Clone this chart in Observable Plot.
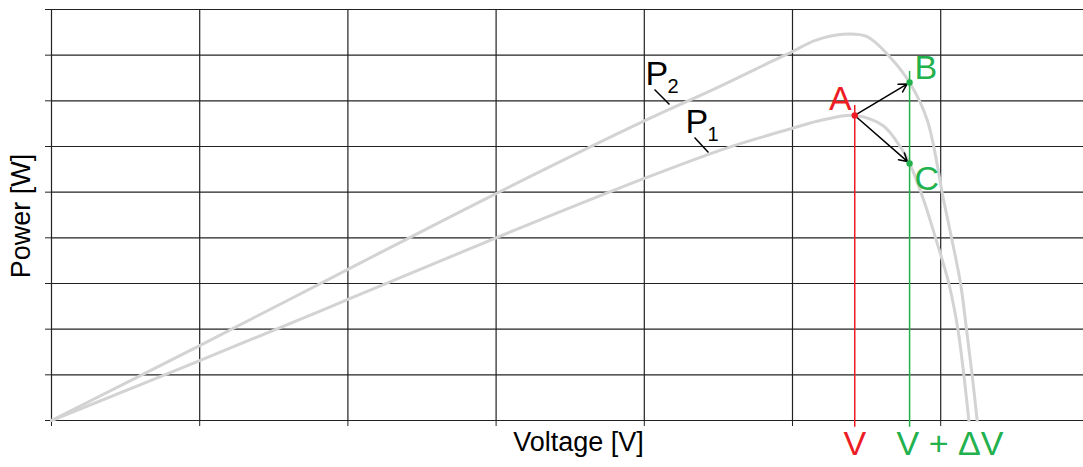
<!DOCTYPE html>
<html>
<head>
<meta charset="utf-8">
<script src="https://cdn.jsdelivr.net/npm/d3@7"></script>
<script src="https://cdn.jsdelivr.net/npm/@observablehq/plot@0.6"></script>
<style>
  html, body { margin: 0; padding: 0; background: #fff; }
  #chart svg { display: block; }
</style>
</head>
<body>
<div id="chart"></div>
<script>
// ---- data (grid units) ----
const xTicks = [0, 1, 2, 3, 4, 5, 6];
const yTicks = [0, 1, 2, 3, 4, 5, 6, 7, 8, 9];

const p1Voltage = [0, 1, 2, 3, 4, 4.56, 5, 5.2, 5.42, 5.61, 5.73, 5.79, 5.886, 5.965, 6.055, 6.116, 6.156, 6.19];
const p1Power   = [0, 1.31, 2.65, 4.0, 5.3, 5.97, 6.4, 6.58, 6.68, 6.46, 5.98, 5.63, 4.82, 4.0, 3.0, 2.0, 1.0, 0];

const p2Voltage = [0, 1, 2, 3, 4, 4.5, 4.87, 5, 5.15, 5.34, 5.5, 5.66, 5.79, 5.91, 6.02, 6.073, 6.134, 6.174, 6.212, 6.246];
const p2Power   = [0, 1.64, 3.31, 4.97, 6.56, 7.3, 7.88, 8.08, 8.32, 8.46, 8.41, 7.95, 7.40, 6.57, 4.82, 4.0, 3.0, 2.0, 1.0, 0];

const vValue = 5.42;          // V
const vdvValue = 5.79;        // V + ΔV
const pointNames = ["A", "B", "C"];
const pointVoltage = [5.42, 5.79, 5.79];
const pointPower = [6.68, 7.40, 5.63];

const curveNames = ["P", "P"];
const curveSubs = ["2", "1"];
const leaderX1 = [4.069, 4.339];
const leaderY1 = [7.248, 6.197];
const leaderX2 = [4.170, 4.433];
const leaderY2 = [6.919, 5.868];

const red = "#ed1c24";
const green = "#22b14c";
const gridColor = "#222";
const font = "'Liberation Sans', Arial, sans-serif";

// ---- tables built from the arrays ----
const p1 = p1Voltage.map((v, i) => ({v, p: p1Power[i]}));
const p2 = p2Voltage.map((v, i) => ({v, p: p2Power[i]}));
const pts = pointNames.map((n, i) => ({n, v: pointVoltage[i], p: pointPower[i]}));
const A = pts[0], B = pts[1], C = pts[2];
const leaders = curveNames.map((n, i) => ({n, s: curveSubs[i], x1: leaderX1[i], y1: leaderY1[i], x2: leaderX2[i], y2: leaderY2[i]}));

const chart = Plot.plot({
  width: 1083,
  height: 467,
  marginLeft: 51,
  marginRight: 0,
  marginTop: 9,
  marginBottom: 47,
  x: {domain: [0, 1032 / 148.2]},
  y: {domain: [0, 9]},
  style: {fontFamily: font, background: "#fff", color: "#000"},
  marks: [
    Plot.gridY(yTicks, {stroke: gridColor, strokeOpacity: 1, strokeWidth: 1.2}),
    Plot.gridX(xTicks, {stroke: gridColor, strokeOpacity: 1, strokeWidth: 1.2}),
    Plot.axisY(yTicks, {tickSize: 6, tickFormat: () => "", label: null, stroke: gridColor}),
    Plot.axisX(xTicks, {tickSize: 6, tickFormat: () => "", label: null, stroke: gridColor}),
    Plot.line(p2, {x: "v", y: "p", stroke: "#d3d3d3", strokeWidth: 3, curve: "catmull-rom"}),
    Plot.line(p1, {x: "v", y: "p", stroke: "#d3d3d3", strokeWidth: 3, curve: "catmull-rom"}),
    Plot.ruleX([vValue], {x: d => d, y1: -0.15, y2: 6.9, stroke: red, strokeWidth: 1.5}),
    Plot.ruleX([vdvValue], {x: d => d, y1: -0.15, y2: 7.64, stroke: green, strokeWidth: 1.5}),
    Plot.arrow([B, C], {x1: () => A.v, y1: () => A.p, x2: "v", y2: "p", stroke: "#000", strokeWidth: 1.5, headLength: 9, insetEnd: 3}),
    Plot.dot([A], {x: "v", y: "p", r: 3.2, fill: red}),
    Plot.dot([B, C], {x: "v", y: "p", r: 3.2, fill: green}),
    Plot.link(leaders, {x1: "x1", y1: "y1", x2: "x2", y2: "y2", stroke: "#000", strokeWidth: 1.5}),
    Plot.text(leaders, {x: "x1", y: "y1", text: "n", textAnchor: "start", dx: -9, dy: -15, fontSize: 34, fill: "#000"}),
    Plot.text(leaders, {x: "x1", y: "y1", text: "s", textAnchor: "start", dx: 13, dy: -3, fontSize: 20, fill: "#000"}),
    Plot.text([A], {x: "v", y: "p", text: "n", textAnchor: "end", dx: -3, dy: -16, fontSize: 34, fill: red}),
    Plot.text([B], {x: "v", y: "p", text: "n", textAnchor: "start", dx: 5, dy: -14, fontSize: 34, fill: green}),
    Plot.text([C], {x: "v", y: "p", text: "n", textAnchor: "start", dx: 5, dy: 16, fontSize: 34, fill: green}),
    Plot.text(["V"], {x: () => vValue, y: () => 0, textAnchor: "middle", dy: 24, fontSize: 34, fill: red}),
    Plot.text(["V + ΔV"], {x: () => vdvValue, y: () => 0, textAnchor: "start", dx: -13, dy: 24, fontSize: 34, fill: green}),
    Plot.text(["Voltage [V]"], {frameAnchor: "bottom", textAnchor: "middle", dx: 11, dy: 30, fontSize: 27, fill: "#000", letterSpacing: "1.2px"}),
    Plot.text(["Power [W]"], {frameAnchor: "left", textAnchor: "middle", rotate: -90, dx: -30, dy: 1, fontSize: 27, fill: "#000", letterSpacing: "1.6px"})
  ]
});
document.getElementById("chart").appendChild(chart);
</script>
</body>
</html>
